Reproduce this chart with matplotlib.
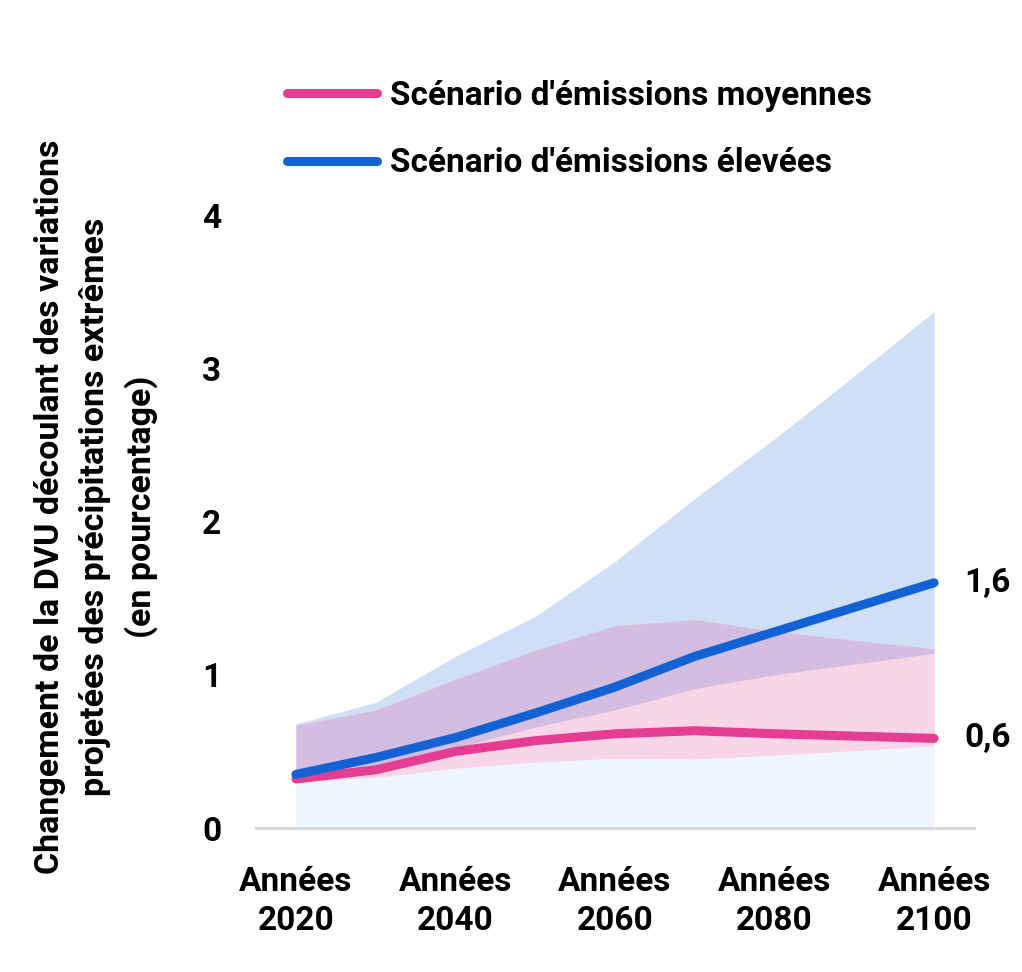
import numpy as np
import matplotlib.pyplot as plt

# decades shown on the x axis
years = [2020, 2030, 2040, 2050, 2060, 2070, 2080, 2090, 2100]
tick_years = [2020, 2040, 2060, 2080, 2100]

# medium emissions scenario: median and range
med_line = [0.32, 0.38, 0.50, 0.57, 0.615, 0.635, 0.615, 0.60, 0.585]
med_lower = [0.30, 0.33, 0.39, 0.43, 0.455, 0.45, 0.475, 0.505, 0.535]
med_upper = [0.67, 0.77, 0.97, 1.16, 1.32, 1.36, 1.285, 1.225, 1.17]

# high emissions scenario: median and range
high_line = [0.35, 0.46, 0.59, 0.75, 0.92, 1.12, 1.28, 1.44, 1.60]
high_lower = [0.30, 0.40, 0.52, 0.66, 0.77, 0.91, 1.00, 1.07, 1.14]
high_upper = [0.68, 0.82, 1.12, 1.38, 1.74, 2.15, 2.54, 2.95, 3.37]

labels = ["Scénario d'émissions moyennes", "Scénario d'émissions élevées"]
ylabel = ("Changement de la DVU découlant des variations\n"
          "projetées des précipitations extrêmes\n(en pourcentage)")

pink = '#e43d92'
blue = '#1262d4'
pink_band = '#f8d6e8'
blue_band = '#cfdff5'
mix_band = '#d3bee1'
base_band = '#eef5fd'

plt.rcParams['font.family'] = ['Roboto', 'DejaVu Sans']
plt.rcParams['font.weight'] = 'bold'
fs = 24

fig = plt.figure(figsize=(10.22, 9.72), dpi=100)
ax = fig.add_axes([0.2505, 0.1481, 0.7025, 0.6307])

x = np.arange(len(years))
ml, mu = np.array(med_lower), np.array(med_upper)
hl, hu = np.array(high_lower), np.array(high_upper)
ax.fill_between(x, 0, ml, color=base_band, lw=0)
ax.fill_between(x, hl, hu, color=blue_band, lw=0)
ax.fill_between(x, ml, mu, color=pink_band, lw=0)
# overlap of the two ranges
lo = np.maximum(hl, ml)
hi = np.minimum(hu, mu)
ax.fill_between(x, lo, hi, where=hi > lo, interpolate=True, color=mix_band, lw=0)

l1, = ax.plot(x, med_line, color=pink, lw=6.5, solid_capstyle='round', clip_on=False, zorder=3)
l2, = ax.plot(x, high_line, color=blue, lw=6.5, solid_capstyle='round', clip_on=False, zorder=4)

# end-of-line values
for vals in (high_line, med_line):
  ax.annotate(f"{vals[-1]:.1f}".replace('.', ','), xy=(x[-1], vals[-1]), xytext=(22, 0),
              textcoords='offset points', ha='left', va='center', fontsize=fs)

ax.set_xlim(-0.5, len(years) - 0.5)
ax.set_ylim(0, 4)
ax.set_xticks([years.index(y) for y in tick_years])
ax.set_xticklabels([f"Années\n{y}" for y in tick_years], fontsize=fs, linespacing=1.3)
ax.set_yticks([0, 1, 2, 3, 4])
ax.set_yticklabels(['0', '1', '2', '3', '4'], fontsize=fs)
ax.tick_params(axis='x', length=0, pad=27)
ax.tick_params(axis='y', length=0, pad=25)
for s in ['top', 'right', 'left']:
  ax.spines[s].set_visible(False)
ax.spines['bottom'].set_color('#d9d9d9')
ax.spines['bottom'].set_linewidth(2.2)
ax.set_facecolor('none')

fig.text(96 / 1022, 0.479, ylabel, rotation=90, ha='center', va='center',
         multialignment='center', fontsize=24.5, linespacing=1.5)

fig.legend([l1, l2], labels, loc='upper left', bbox_to_anchor=(287 / 1022, 0.918),
           frameon=False, fontsize=fs, handlelength=2.7, handletextpad=0.4,
           labelspacing=1.07, borderpad=0, borderaxespad=0)

fig.savefig('out.png', dpi=100)
